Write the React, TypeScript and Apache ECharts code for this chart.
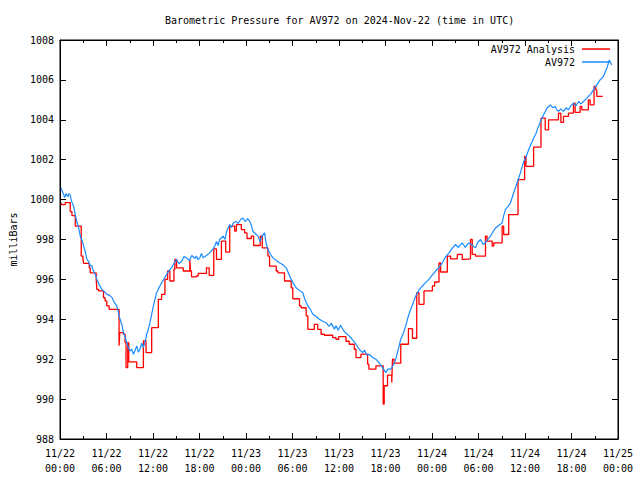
import React, { useEffect, useRef } from "react";
import * as echarts from "echarts";

const TITLE = "Barometric Pressure for AV972 on 2024-Nov-22 (time in UTC)";
const Y_NAME = "milliBars";
const SERIES_ANALYSIS = "AV972 Analysis";
const SERIES_OBS = "AV972";

const START = Date.UTC(2024, 10, 22, 0, 0, 0);
const HOUR = 3600000;
const X_SPAN_HOURS = 72;
const X_STEP_HOURS = 6;
const Y_MIN = 988;
const Y_MAX = 1008;
const Y_STEP = 2;

// Analysis (step) series: hours after 11/22 00:00 UTC and the level that starts there
const analysisHours = [
  0.13, 0.22, 0.68, 1.32, 1.54, 1.97, 2.74, 2.96, 3.05, 3.77,
  3.9, 4.67, 4.76, 4.98, 5.62, 5.82, 6.04, 6.34, 7.62, 7.71,
  8.19, 8.4, 8.52, 8.74, 8.87, 9.9, 10.76, 11.1, 11.83, 12.69,
  13.11, 13.54, 13.89, 14.18, 14.7, 14.82, 15.04, 15.9, 16.75, 16.84,
  16.97, 17.61, 17.83, 18.9, 19.25, 19.84, 20.19, 20.83, 21.38, 21.9,
  22.54, 22.76, 23.4, 23.82, 24.13, 24.69, 24.98, 25.84, 26.1, 26.83,
  27.04, 27.9, 28.12, 28.97, 29.83, 30.04, 30.9, 31.11, 31.76, 31.98,
  32.82, 33.26, 33.69, 34.11, 35.19, 35.61, 35.96, 36.9, 37.32, 37.97,
  38.19, 38.83, 39.69, 39.86, 40.76, 41.7, 41.83, 42.26, 42.81, 42.9,
  43.11, 43.97, 44.96, 45.48, 46.03, 46.32, 46.97, 48.05, 48.34, 48.9,
  49.11, 49.98, 50.4, 51.26, 51.9, 52.11, 52.97, 53.19, 53.61, 54.9,
  55.11, 55.76, 55.97, 57.05, 57.25, 57.9, 59.1, 59.95, 60.13, 61.11,
  62.06, 62.61, 63.04, 64.32, 64.63, 64.97, 65.61, 66.25, 66.47, 67.11,
  67.33, 68.18, 68.4, 68.91, 69.13, 69.26, 70.03,
];
const analysisValues = [
  999.85, 999.75, 999.85, 999.4, 999.2, 998.67, 997.17, 997.0, 996.8, 996.58,
  996.33, 996.0, 995.5, 995.42, 995.08, 994.92, 994.67, 994.5, 992.67, 993.33,
  993.25, 992.83, 991.58, 992.83, 991.87, 991.58, 992.92, 992.33, 993.58, 995.0,
  995.25, 996.0, 996.42, 995.92, 996.5, 997.0, 996.58, 996.42, 997.0, 996.42,
  996.13, 996.17, 996.3, 996.58, 996.2, 997.53, 997.0, 997.92, 997.37, 998.67,
  998.42, 998.75, 998.5, 998.33, 998.05, 998.17, 997.7, 998.17, 997.58, 997.17,
  996.67, 996.42, 996.33, 995.92, 995.58, 995.03, 994.67, 994.58, 994.17, 993.5,
  993.75, 993.5, 993.25, 993.2, 993.08, 993.0, 993.13, 992.9, 992.75, 992.5,
  992.08, 992.25, 991.75, 991.5, 991.67, 989.75, 990.67, 991.2, 990.83, 992.0,
  991.8, 992.75, 993.53, 993.05, 995.33, 994.75, 995.42, 995.67, 995.87, 996.83,
  996.37, 997.17, 997.03, 997.25, 997.0, 997.03, 998.0, 997.25, 997.17, 998.17,
  997.92, 997.67, 997.83, 998.67, 998.25, 999.25, 1001.0, 1002.17, 1001.67, 1002.63,
  1004.08, 1003.5, 1004.0, 1004.33, 1003.87, 1004.17, 1004.33, 1004.83, 1004.37, 1004.67,
  1004.5, 1005.0, 1004.75, 1005.67, 1005.5, 1005.17, 1005.17,
];

// Observed series: [hours after 11/22 00:00 UTC, pressure]
const observed: [number, number][] = [
  [0.13, 1000.6], [0.3, 1000.4], [0.48, 1000.25], [0.6, 1000.1], [0.77, 1000.3],
  [0.9, 1000.2], [1.03, 1000.15], [1.15, 1000.3], [1.29, 1000.25], [1.5, 999.9],
  [1.76, 999.67], [1.95, 999.3], [2.19, 998.85], [2.4, 998.6], [2.61, 998.17],
  [2.8, 998.0], [3.05, 997.67], [3.25, 997.4], [3.47, 997.0], [3.7, 996.9],
  [3.9, 996.67], [4.1, 996.7], [4.33, 996.4], [4.5, 996.3], [4.76, 996.0],
  [5.1, 995.7], [5.4, 995.5], [5.7, 995.4], [6.04, 995.25], [6.4, 995.2],
  [6.69, 995.1], [7.0, 994.85], [7.33, 994.67], [7.5, 994.4], [7.75, 994.0],
  [8.0, 993.7], [8.19, 993.35], [8.4, 993.1], [8.61, 992.85], [8.8, 992.6],
  [9.04, 992.4], [9.25, 992.5], [9.48, 992.25], [9.7, 992.45], [9.9, 992.67],
  [10.1, 992.35], [10.32, 992.5], [10.55, 992.8], [10.76, 992.6], [11.0, 992.9],
  [11.19, 993.25], [11.4, 993.5], [11.61, 993.83], [11.8, 994.2], [12.05, 994.67],
  [12.25, 995.0], [12.47, 995.33], [12.8, 995.6], [13.11, 995.83], [13.4, 996.0],
  [13.76, 996.25], [14.1, 996.45], [14.4, 996.58], [14.7, 996.8], [15.04, 997.0],
  [15.35, 996.8], [15.69, 996.9], [16.0, 997.15], [16.33, 997.08], [16.7, 996.95],
  [17.0, 997.2], [17.4, 997.05], [17.61, 997.17], [17.8, 997.0], [18.04, 997.08],
  [18.25, 997.3], [18.48, 997.08], [18.9, 997.2], [19.32, 997.33], [19.7, 997.5],
  [20.0, 997.7], [20.19, 997.9], [20.4, 997.7], [20.6, 998.0], [21.05, 998.17],
  [21.3, 998.0], [21.5, 998.4], [21.9, 998.75], [22.1, 998.6], [22.4, 998.85],
  [22.76, 998.9], [23.0, 998.8], [23.3, 999.0], [23.62, 999.08], [23.9, 998.9],
  [24.2, 999.05], [24.47, 998.92], [24.7, 998.7], [24.9, 998.4], [25.2, 998.3],
  [25.55, 998.17], [25.8, 997.9], [26.1, 998.2], [26.4, 998.33], [26.6, 997.8],
  [26.83, 997.5], [27.1, 997.3], [27.48, 997.08], [27.9, 996.95], [28.32, 996.83],
  [28.7, 996.75], [29.19, 996.58], [29.5, 996.3], [29.83, 996.0], [30.1, 995.8],
  [30.47, 995.58], [30.9, 995.45], [31.33, 995.33], [31.6, 995.0], [31.98, 994.67],
  [32.3, 994.5], [32.62, 994.25], [33.0, 994.15], [33.47, 994.0], [33.9, 993.9],
  [34.33, 993.83], [34.7, 993.65], [35.0, 993.8], [35.19, 993.67], [35.4, 993.5],
  [35.61, 993.67], [35.9, 993.45], [36.2, 993.7], [36.48, 993.5], [36.9, 993.3],
  [37.32, 993.17], [37.7, 993.0], [38.19, 992.75], [38.6, 992.5], [39.05, 992.33],
  [39.3, 992.45], [39.6, 992.2], [39.9, 992.25], [40.3, 992.1], [40.76, 992.0],
  [41.2, 991.8], [41.62, 991.58], [42.04, 991.33], [42.3, 991.5], [42.69, 991.5],
  [43.0, 991.7], [43.33, 992.0], [43.65, 992.5], [43.97, 993.0], [44.3, 993.3],
  [44.61, 993.67], [44.9, 994.1], [45.26, 994.5], [45.6, 994.85], [45.9, 995.17],
  [46.3, 995.45], [46.76, 995.67], [47.2, 995.85], [47.61, 996.0], [48.0, 996.2],
  [48.47, 996.42], [48.9, 996.6], [49.33, 996.83], [49.7, 997.1], [50.18, 997.33],
  [50.6, 997.55], [51.04, 997.75], [51.4, 997.6], [51.9, 997.83], [52.3, 997.6],
  [52.75, 997.83], [53.2, 997.7], [53.61, 997.58], [53.9, 997.85], [54.26, 998.0],
  [54.6, 997.75], [54.9, 997.85], [55.2, 998.0], [55.54, 998.17], [55.9, 998.4],
  [56.19, 998.58], [56.6, 998.7], [57.05, 998.83], [57.25, 999.2], [57.47, 999.5],
  [57.8, 999.65], [58.11, 999.83], [58.54, 1000.33], [58.97, 1000.83], [59.4, 1001.33],
  [59.82, 1001.9], [60.1, 1002.1], [60.47, 1002.5], [60.8, 1002.8], [61.11, 1003.08],
  [61.4, 1003.3], [61.75, 1003.67], [62.1, 1004.0], [62.4, 1004.25], [62.83, 1004.58],
  [63.26, 1004.75], [63.6, 1004.6], [63.9, 1004.67], [64.1, 1004.5], [64.32, 1004.42],
  [64.6, 1004.55], [64.97, 1004.42], [65.3, 1004.6], [65.61, 1004.5], [65.9, 1004.7],
  [66.25, 1004.83], [66.6, 1004.7], [66.9, 1004.92], [67.2, 1004.8], [67.54, 1004.92],
  [67.9, 1005.05], [68.18, 1005.17], [68.5, 1005.3], [68.83, 1005.5], [69.26, 1005.75],
  [69.69, 1006.0], [70.11, 1006.17], [70.55, 1006.58], [70.88, 1007.0], [71.19, 1006.75],
];

const FONT = "DejaVu Sans Mono";
const pad = (n: number) => (n < 10 ? "0" + n : "" + n);

export default function App() {
  const ref = useRef<HTMLDivElement>(null);
  useEffect(() => {
    if (!ref.current) return;
    const chart = echarts.init(ref.current, null, { renderer: "svg" });
    const analysisData = analysisHours.map((h, i) => [START + h * HOUR, analysisValues[i]]);
    const obsData = observed.map(([h, v]) => [START + h * HOUR, v]);
    const xFmt = (val: number) => {
      const d = new Date(val);
      return `${pad(d.getUTCMonth() + 1)}/${pad(d.getUTCDate())}\n${pad(d.getUTCHours())}:${pad(d.getUTCMinutes())}`;
    };
    const xBase = {
      type: "value" as const,
      min: START,
      max: START + X_SPAN_HOURS * HOUR,
      interval: X_STEP_HOURS * HOUR,
      axisLine: { show: true, lineStyle: { color: "#000", width: 1 } },
      axisTick: { show: true, inside: true, length: 6, lineStyle: { color: "#000" } },
      minorTick: { show: true, splitNumber: 2, length: 3, lineStyle: { color: "#000" } },
      splitLine: { show: false },
    };
    const yBase = {
      type: "value" as const,
      min: Y_MIN,
      max: Y_MAX,
      interval: Y_STEP,
      axisLine: { show: true, lineStyle: { color: "#000", width: 1 } },
      axisTick: { show: true, inside: true, length: 6, lineStyle: { color: "#000" } },
      splitLine: { show: false },
    };
    chart.setOption({
      animation: false,
      backgroundColor: "#fff",
      title: {
        text: TITLE,
        left: 165,
        top: 15,
        padding: 0,
        textStyle: { fontFamily: FONT, fontSize: 10, fontWeight: "normal", color: "#000" },
      },
      legend: {
        orient: "vertical",
        right: 30,
        top: 44,
        align: "right",
        itemWidth: 28,
        itemHeight: 1.5,
        itemGap: 3,
        padding: 0,
        textStyle: { fontFamily: FONT, fontSize: 10, color: "#000", padding: [0, 2, 0, 0] },
        data: [
          { name: SERIES_ANALYSIS, icon: "rect" },
          { name: SERIES_OBS, icon: "rect" },
        ],
      },
      grid: {
        left: 58,
        right: 22,
        top: 40,
        bottom: 41,
        show: true,
        borderColor: "#000",
        borderWidth: 1,
        backgroundColor: "transparent",
      },
      xAxis: [
        {
          ...xBase,
          position: "bottom",
          axisLabel: {
            show: true,
            formatter: xFmt,
            fontFamily: FONT,
            fontSize: 10,
            color: "#000",
            lineHeight: 15,
            margin: 7,
            showMinLabel: true,
            showMaxLabel: true,
          },
        },
        { ...xBase, position: "top", axisLabel: { show: false } },
      ],
      yAxis: [
        {
          ...yBase,
          position: "left",
          name: Y_NAME,
          nameLocation: "middle",
          nameGap: 42,
          nameTextStyle: { fontFamily: FONT, fontSize: 10, color: "#000" },
          axisLabel: {
            fontFamily: FONT,
            fontSize: 10,
            color: "#000",
            margin: 6,
            formatter: (v: number) => String(v),
          },
        },
        { ...yBase, position: "right", axisLabel: { show: false } },
      ],
      series: [
        {
          name: SERIES_ANALYSIS,
          type: "line",
          step: "end",
          data: analysisData,
          showSymbol: false,
          symbol: "none",
          color: "#ff0000",
          lineStyle: { color: "#ff0000", width: 1.3 },
          xAxisIndex: 0,
          yAxisIndex: 0,
        },
        {
          name: SERIES_OBS,
          type: "line",
          data: obsData,
          showSymbol: false,
          symbol: "none",
          color: "#1a8cff",
          lineStyle: { color: "#1a8cff", width: 1.2 },
          xAxisIndex: 0,
          yAxisIndex: 0,
        },
      ],
    });
    return () => chart.dispose();
  }, []);
  return <div ref={ref} style={{ position: "fixed", left: 0, top: 0, width: 640, height: 480 }} />;
}
